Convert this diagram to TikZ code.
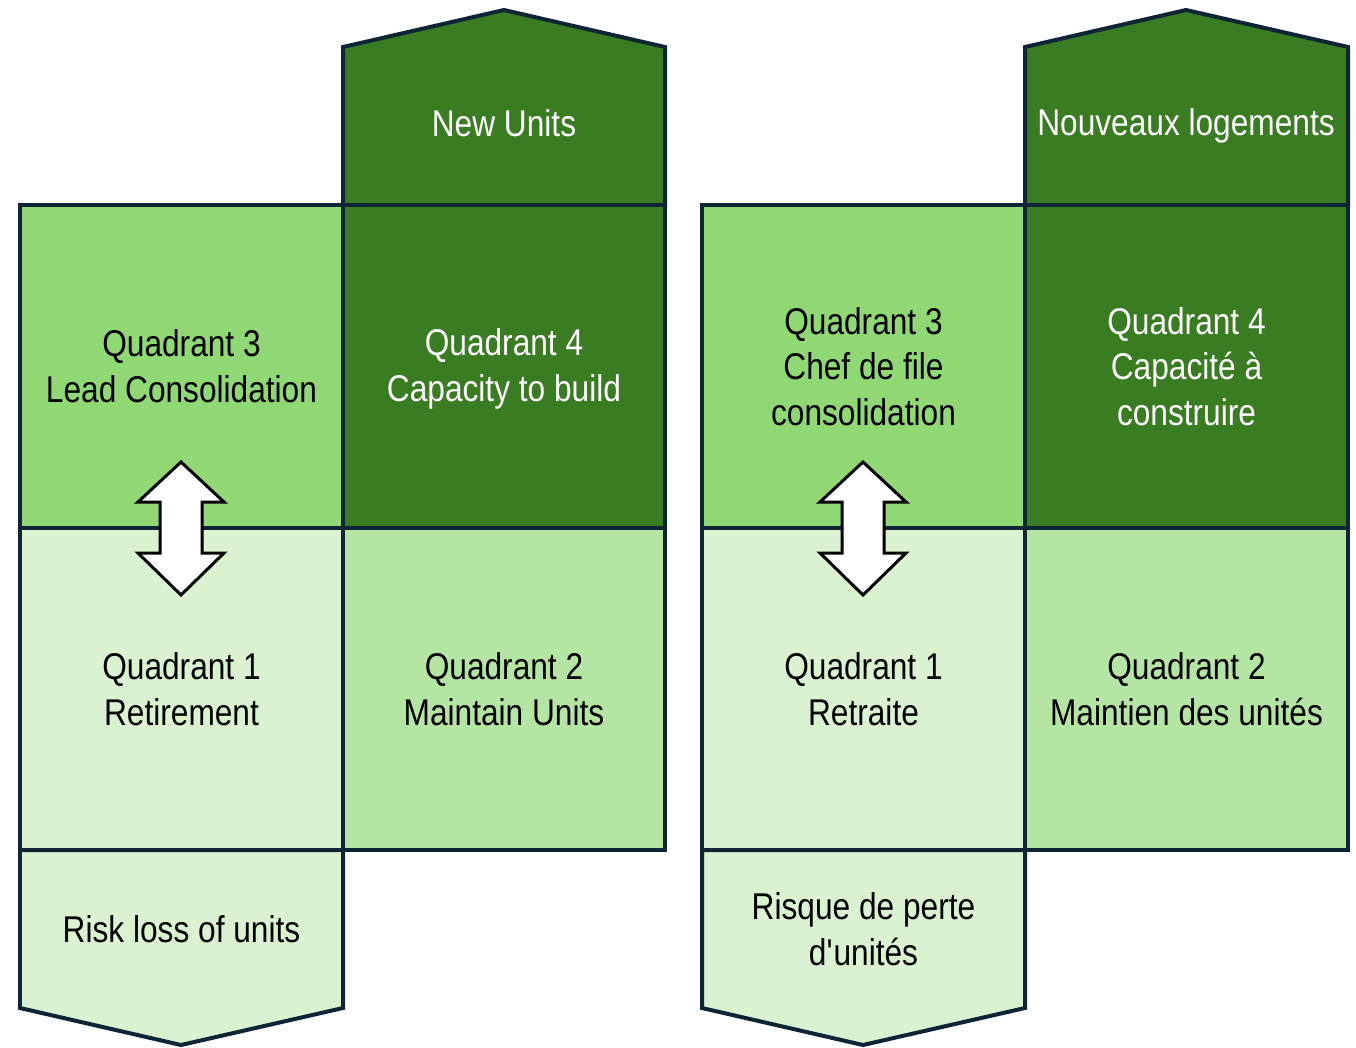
\documentclass[tikz,border=0pt]{standalone}
\usepackage{fontspec}
\setmainfont{Liberation Sans}[FakeStretch=0.85]
\usetikzlibrary{positioning}

\definecolor{dkgreen}{HTML}{3A7C22}
\definecolor{ltgreen}{HTML}{8FD873}
\definecolor{mdgreen}{HTML}{B5E5A2}
\definecolor{pagreen}{HTML}{DAF2D0}
\definecolor{edge}{HTML}{0D2535}

\tikzset{
  border/.style={draw=edge, line width=0.08cm, line join=miter},
  cell/.style={border, minimum width=6.46cm, minimum height=6.46cm, inner sep=0pt, outer sep=0pt},
  label/.style={align=center, font=\fontsize{21.2}{26}\selectfont},
  dark/.style={text=white},
  twoway/.style={draw=black, fill=white, line width=0.06cm, line join=miter},
}

\begin{document}
\begin{tikzpicture}[x=0.02cm, y=-0.02cm]
    \useasboundingbox (0,0) rectangle (1356,1048);

    % left block (English)
    \draw[border, fill=dkgreen] (343,205) -- (343,47) -- (504,10) -- (665,47) -- (665,205) -- cycle;
    \draw[border, fill=pagreen] (20,850) -- (20,1008) -- (181,1045) -- (343,1008) -- (343,850) -- cycle;
    \node[cell, fill=ltgreen] at (181.5,366.5)(q3L){};
    \node[cell, fill=dkgreen] at (504,366.5)(q4L){};
    \node[cell, fill=pagreen] at (181.5,689)(q1L){};
    \node[cell, fill=mdgreen] at (504,689)(q2L){};

    \node[label, dark] at (504,123)(topL){New Units};
    \node[label] at (181.5,929)(botL){Risk loss of units};
    \node[label] at (q3L){Quadrant 3\\Lead Consolidation};
    \node[label, dark] at (504,369)(q4Ltext){Quadrant 4\\Capacity to build};
    \node[label] at (q1L){Quadrant 1\\Retirement};
    \node[label] at (q2L){Quadrant 2\\Maintain Units};

    % right block (French)
    \draw[border, fill=dkgreen] (1025,205) -- (1025,47) -- (1186,10) -- (1348,47) -- (1348,205) -- cycle;
    \draw[border, fill=pagreen] (702,850) -- (702,1008) -- (863,1045) -- (1025,1008) -- (1025,850) -- cycle;
    \node[cell, fill=ltgreen] at (863.5,366.5)(q3R){};
    \node[cell, fill=dkgreen] at (1186.5,366.5)(q4R){};
    \node[cell, fill=pagreen] at (863.5,689)(q1R){};
    \node[cell, fill=mdgreen] at (1186.5,689)(q2R){};

    \node[label, dark] at (1186,126)(topR){Nouveaux logements};
    \node[label] at (863.5,929)(botR){Risque de perte\\d\textquotesingle unités};
    \node[label] at (q3R){Quadrant 3\\Chef de file\\consolidation};
    \node[label, dark] at (q4R){Quadrant 4\\Capacité à\\construire};
    \node[label] at (q1R){Quadrant 1\\Retraite};
    \node[label] at (q2R){Quadrant 2\\Maintien des unités};

    % double arrows between Q3 and Q1
    \foreach \cx in {181,863}
        \draw[twoway] (\cx,462) -- ++(43,40) -- ++(-22,0) -- ++(0,51) -- ++(22,0)
            -- (\cx,595) -- ++(-43,-42) -- ++(22,0) -- ++(0,-51) -- ++(-22,0) -- cycle;
\end{tikzpicture}
\end{document}
